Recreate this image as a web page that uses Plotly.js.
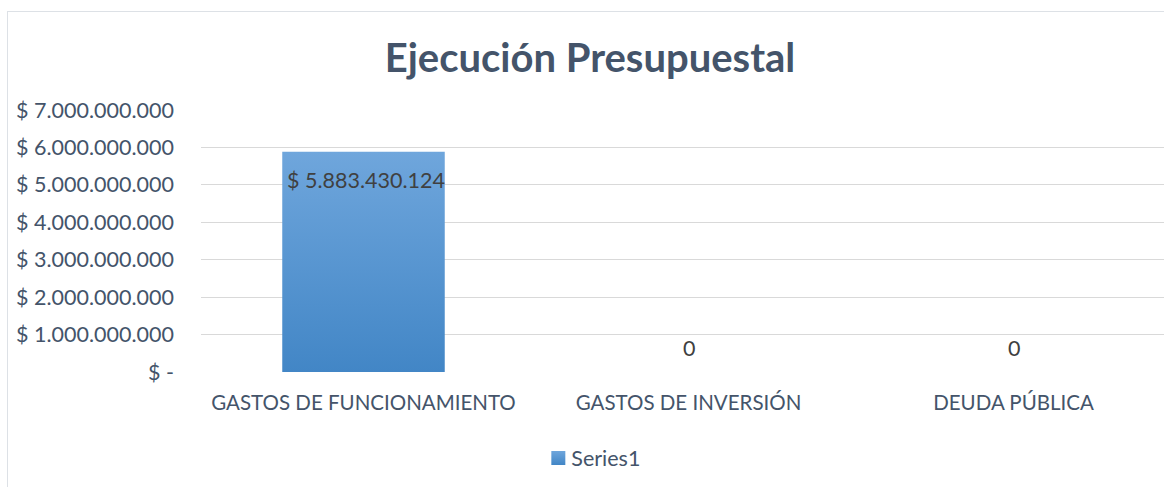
<!DOCTYPE html>
<html>
<head>
<meta charset="utf-8">
<script src="https://cdn.plot.ly/plotly-3.0.1.min.js"></script>
<style>
html,body{margin:0;padding:0;width:1164px;height:487px;overflow:hidden;background:#fff;}
#frame{position:absolute;left:7px;top:11px;width:1200px;height:500px;border:1px solid #dde1e6;box-sizing:border-box;}
#chart{position:absolute;left:0;top:0;width:1180px;height:487px;}
</style>
</head>
<body>
<div id="frame"></div>
<div id="chart"></div>
<script>
const categories = ["GASTOS DE FUNCIONAMIENTO", "GASTOS DE INVERSIÓN", "DEUDA PÚBLICA"];
const values = [5883430124, 0, 0];
const valueLabels = ["$ 5.883.430.124", "0", "0"];
const tickValues = [0, 1000000000, 2000000000, 3000000000, 4000000000, 5000000000, 6000000000, 7000000000];
const tickLabels = ["$ -", "$ 1.000.000.000", "$ 2.000.000.000", "$ 3.000.000.000", "$ 4.000.000.000", "$ 5.000.000.000", "$ 6.000.000.000", "$ 7.000.000.000"];
const seriesName = "Series1";
const chartTitle = "Ejecución Presupuestal";

const textColor = "#44546A";
const font = "Lato, 'Open Sans', sans-serif";

const trace = {
  type: "bar",
  x: categories,
  y: values,
  name: seriesName,
  marker: {color: "#5B9BD5"},
  hoverinfo: "none",
  showlegend: true
};

const annotations = categories.map((c, i) => ({
  x: c, y: values[i], xref: "x", yref: "y",
  text: valueLabels[i], showarrow: false,
  yanchor: "middle",
  xshift: values[i] > 0 ? 2 : 0,
  yshift: values[i] > 0 ? -28 : 24,
  font: {family: font, size: 21.5, color: "#404040"}
}));

const layout = {
  width: 1180, height: 487,
  margin: {l: 201, r: 4, t: 110, b: 115},
  paper_bgcolor: "rgba(0,0,0,0)",
  plot_bgcolor: "rgba(0,0,0,0)",
  title: {text: "<b>" + chartTitle + "</b>", x: 0.5, xref: "container", y: 0.881, yref: "container", yanchor: "middle",
    font: {family: font, size: 40, color: textColor}},
  bargap: 0.5,
  xaxis: {
    type: "category", range: [-0.5, 2.5],
    showgrid: false, zeroline: false, showline: false, ticks: "",
    ticklabelstandoff: 16,
    tickfont: {family: font, size: 20.5, color: textColor}
  },
  yaxis: {
    range: [0, 7000000000], tickmode: "array", tickvals: tickValues, ticktext: tickLabels,
    showgrid: true, gridcolor: "#D9D9D9", gridwidth: 1, zeroline: false, showline: false, ticks: "",
    ticklabelstandoff: 26,
    tickfont: {family: font, size: 21.5, color: textColor}
  },
  showlegend: true,
  legend: {orientation: "h", x: 0.347, xanchor: "left", y: -0.328, yanchor: "middle",
    font: {family: font, size: 21.5, color: textColor}, itemwidth: 30, bgcolor: "rgba(0,0,0,0)"},
  annotations: annotations
};

Plotly.newPlot("chart", [trace], layout, {displayModeBar: false, staticPlot: true}).then(gd => {
  const svg = gd.querySelector("svg.main-svg");
  const ns = "http://www.w3.org/2000/svg";
  let defs = svg.querySelector("defs");
  if (!defs) { defs = document.createElementNS(ns, "defs"); svg.insertBefore(defs, svg.firstChild); }
  const grad = document.createElementNS(ns, "linearGradient");
  grad.setAttribute("id", "barGrad");
  grad.setAttribute("x1", "0"); grad.setAttribute("y1", "0"); grad.setAttribute("x2", "0"); grad.setAttribute("y2", "1");
  const s1 = document.createElementNS(ns, "stop"); s1.setAttribute("offset", "0"); s1.setAttribute("stop-color", "#6FA6DC");
  const s2 = document.createElementNS(ns, "stop"); s2.setAttribute("offset", "1"); s2.setAttribute("stop-color", "#4286C6");
  grad.appendChild(s1); grad.appendChild(s2); defs.appendChild(grad);
  gd.querySelectorAll(".barlayer .point path").forEach(p => { p.style.fill = "url(#barGrad)"; });
  gd.querySelectorAll(".legend .legendpoints path").forEach(p => {
    p.style.fill = "url(#barGrad)";
    p.setAttribute("d", "M6,7H-8V-7H6Z");
  });
  gd.querySelectorAll(".legend .legendtext").forEach(t => { t.setAttribute("x", "32"); });
});
</script>
</body>
</html>
